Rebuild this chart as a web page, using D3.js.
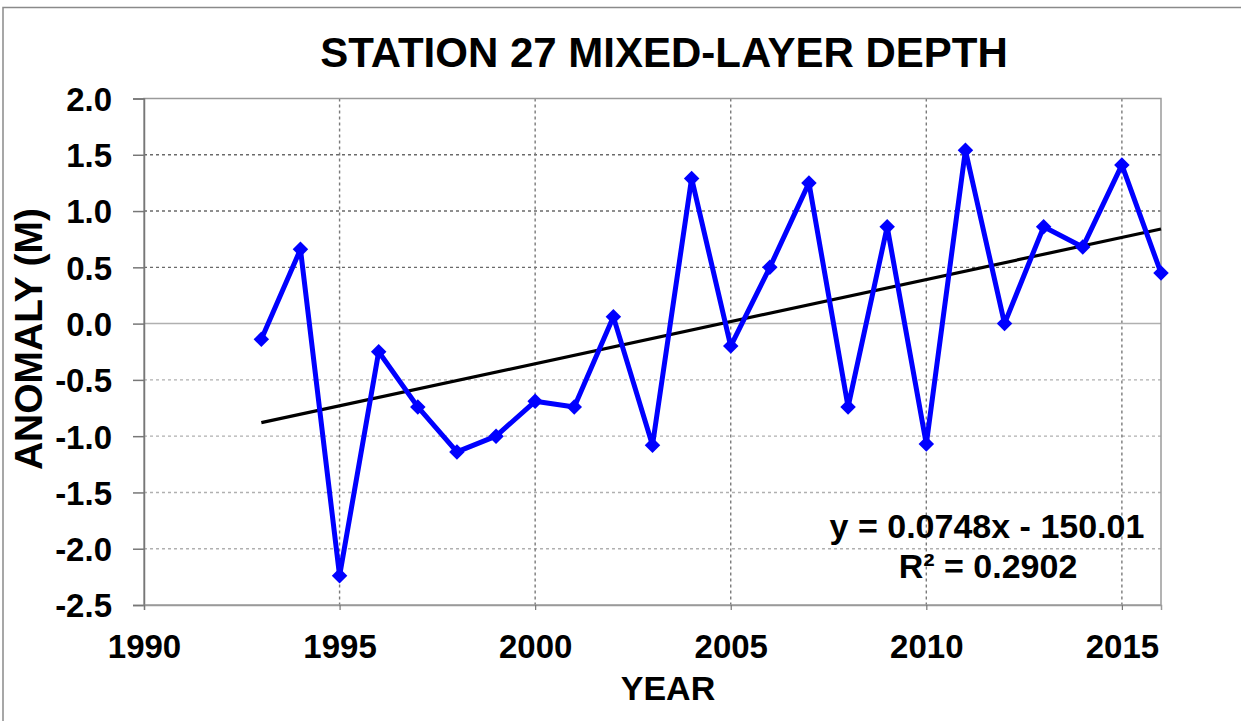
<!DOCTYPE html>
<html><head><meta charset="utf-8">
<script src="https://cdn.jsdelivr.net/npm/d3@7"></script>
<style>body{margin:0;background:#fff;}svg{display:block;}text{font-family:"Liberation Sans",Arial,sans-serif;font-weight:bold;fill:#000;}</style>
</head><body>
<script>
const years = [1993,1994,1995,1996,1997,1998,1999,2000,2001,2002,2003,2004,2005,2006,2007,2008,2009,2010,2011,2012,2013,2014,2015,2016];
const anomaly = [-0.14,0.66,-2.24,-0.25,-0.74,-1.14,-1.00,-0.69,-0.74,0.06,-1.08,1.29,-0.20,0.50,1.25,-0.74,0.86,-1.07,1.54,0.00,0.86,0.68,1.41,0.45];
const xTicks = [1990,1995,2000,2005,2010,2015];
const yTicks = [2.0,1.5,1.0,0.5,0.0,-0.5,-1.0,-1.5,-2.0,-2.5];
const title = "STATION 27 MIXED-LAYER DEPTH";
const eqText = ["y = 0.0748x - 150.01", "R² = 0.2902"];

const W = 1241, H = 721;
const m = {left:144, right:1161, top:98.5, bottom:605};
const svg = d3.select("body").append("svg").attr("width",W).attr("height",H);

// outer frame
svg.append("rect").attr("x",3).attr("y",7.5).attr("width",W+10).attr("height",H+10)
  .attr("fill","none").attr("stroke","#8a8a8a").attr("stroke-width",1.5);

const x = d3.scaleLinear().domain([1990,2016]).range([m.left,m.right]);
const y = d3.scaleLinear().domain([-2.5,2.0]).range([m.bottom,m.top]);

// grid lines
const g = svg.append("g");
g.selectAll("line.hg").data(yTicks.filter(v=>v!==2.0 && v!==-2.5 && v!==0)).enter().append("line")
  .attr("x1",m.left).attr("x2",m.right).attr("y1",d=>y(d)).attr("y2",d=>y(d))
  .attr("stroke",d=>d>0?"#6a6a6a":"#b0b0b0").attr("stroke-width",1.4).attr("stroke-dasharray","3,3");
g.selectAll("line.vg").data(xTicks.filter(v=>v!==1990)).enter().append("line")
  .attr("x1",d=>x(d)).attr("x2",d=>x(d)).attr("y1",m.top).attr("y2",m.bottom)
  .attr("stroke","#7a7a7a").attr("stroke-width",1.4).attr("stroke-dasharray","3,3");
// zero line
g.append("line").attr("x1",m.left).attr("x2",m.right).attr("y1",y(0)).attr("y2",y(0))
  .attr("stroke","#b0b0b0").attr("stroke-width",1.5);
// plot frame
g.append("rect").attr("x",m.left).attr("y",m.top).attr("width",m.right-m.left).attr("height",m.bottom-m.top)
  .attr("fill","none").attr("stroke","#9a9a9a").attr("stroke-width",1.5);

// y axis
const yAxis = d3.axisLeft(y).tickValues(yTicks).tickSize(11).tickPadding(21).tickFormat(d3.format(".1f"));
const ya = svg.append("g").attr("transform",`translate(${m.left},0)`).call(yAxis);
ya.select(".domain").attr("stroke","#777").attr("stroke-width",1.5);
ya.selectAll(".tick line").attr("stroke","#777").attr("stroke-width",1.5);
ya.selectAll(".tick text").style("font-size","33px").attr("dy","0.36em").text(d=>d3.format(".1f")(d).replace("−","-"));

// x axis
const xAxis = d3.axisBottom(x).tickValues(xTicks).tickSize(5).tickPadding(25).tickFormat(d3.format("d"));
const xa = svg.append("g").attr("transform",`translate(0,${m.bottom})`).call(xAxis);
xa.select(".domain").attr("stroke","#9a9a9a").attr("stroke-width",1.5);
xa.selectAll(".tick line").attr("stroke","#777").attr("stroke-width",1.2);
xa.selectAll(".tick text").style("font-size","33px").attr("dy","0.71em");

// trend line (least squares from the data)
const mx = d3.mean(years), my = d3.mean(anomaly);
const slope = d3.sum(years.map((v,i)=>(v-mx)*(anomaly[i]-my))) / d3.sum(years.map(v=>(v-mx)*(v-mx)));
const icpt = my - slope*mx;
const x0 = d3.min(years), x1 = d3.max(years);
svg.append("line").attr("x1",x(x0)).attr("y1",y(icpt+slope*x0)).attr("x2",x(x1)).attr("y2",y(icpt+slope*x1))
  .attr("stroke","#000").attr("stroke-width",3.2);

// data line
const line = d3.line().x((d,i)=>x(years[i])).y(d=>y(d));
svg.append("path").datum(anomaly).attr("d",line).attr("fill","none").attr("stroke","#0000ff")
  .attr("stroke-width",5).attr("stroke-linejoin","round");
svg.selectAll("path.mk").data(anomaly).enter().append("path")
  .attr("d",d3.symbol().type(d3.symbolSquare).size(120))
  .attr("transform",(d,i)=>`translate(${x(years[i])},${y(d)}) rotate(45)`)
  .attr("fill","#0000ff");

// title
svg.append("text").attr("x",664).attr("y",67).attr("text-anchor","middle").style("font-size","42px").text(title);
// axis titles
svg.append("text").attr("x",668).attr("y",700).attr("text-anchor","middle").style("font-size","34px").text("YEAR");
svg.append("text").attr("transform","translate(42,339) rotate(-90)").attr("text-anchor","middle").style("font-size","39px").text("ANOMALY (M)");
// equation
svg.append("text").attr("x",987).attr("y",538).attr("text-anchor","middle").style("font-size","34px").text(eqText[0]);
svg.append("text").attr("x",988).attr("y",578).attr("text-anchor","middle").style("font-size","34px").text(eqText[1]);
</script>
</body></html>
